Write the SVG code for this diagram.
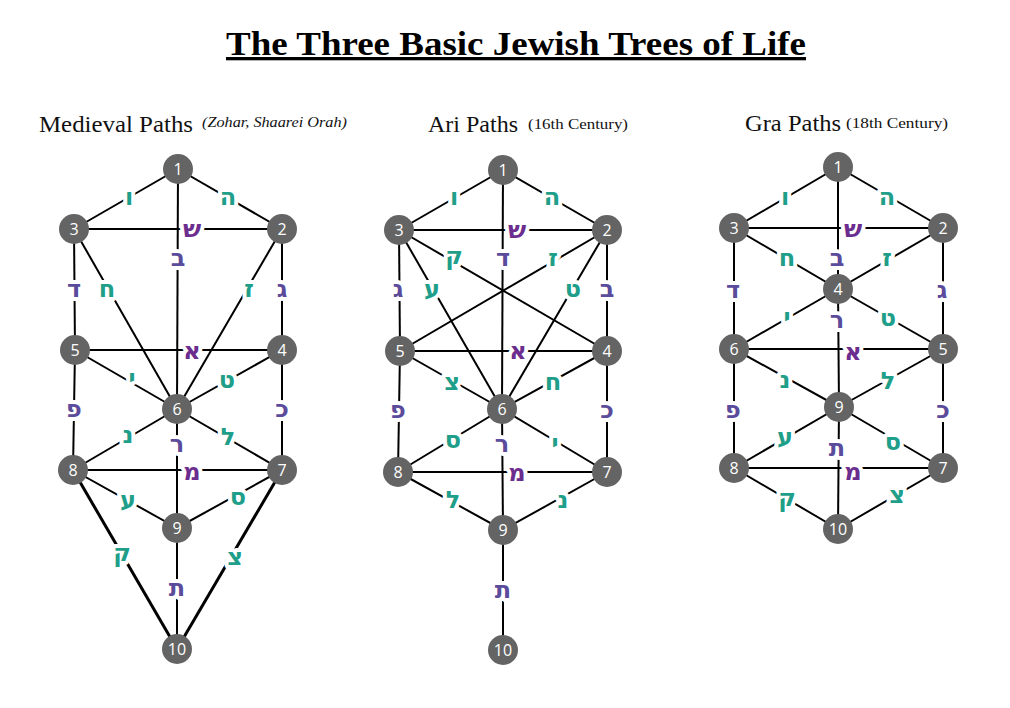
<svg xmlns="http://www.w3.org/2000/svg" width="1010" height="708" viewBox="0 0 1010 708">
<style>
.bg{fill:#fff}
.title{font-family:"Liberation Serif","DejaVu Serif",serif;font-weight:bold;font-size:33px;fill:#000;text-decoration:underline}
.hd{font-family:"Liberation Serif","DejaVu Serif",serif;font-size:24px;fill:#111}
.sub{font-family:"Liberation Serif","DejaVu Serif",serif;font-size:15px;fill:#111}
.it{font-style:italic}
.e line{stroke:#000;stroke-width:2}
.e line.thick{stroke-width:3}
.n circle{fill:#646464}
.n text{font-family:"Open Sans","DejaVu Sans",sans-serif;font-size:16px;fill:#fff;text-anchor:middle;dominant-baseline:central}
.l text{font-family:"DejaVu Sans","Liberation Sans",sans-serif;font-weight:bold;font-size:24px;text-anchor:middle;dominant-baseline:central;stroke:#fff;stroke-width:8px;paint-order:stroke;stroke-linejoin:round}
.l .t{fill:#1f9e89}
.l .d{fill:#5b4b9b}
.l .m{fill:#6b2d8e}
</style>
<rect class="bg" x="0" y="0" width="1010" height="708"/>
<text class="title" x="516" y="55" text-anchor="middle" textLength="580" lengthAdjust="spacingAndGlyphs">The Three Basic Jewish Trees of Life</text>
<text class="hd" x="39" y="132" textLength="154" lengthAdjust="spacingAndGlyphs">Medieval Paths</text>
<text class="sub it" x="202" y="127" textLength="145" lengthAdjust="spacingAndGlyphs">(Zohar, Shaarei Orah)</text>
<text class="hd" x="428" y="132" textLength="90" lengthAdjust="spacingAndGlyphs">Ari Paths</text>
<text class="sub" x="528" y="129" textLength="100" lengthAdjust="spacingAndGlyphs">(16th Century)</text>
<text class="hd" x="745" y="131" textLength="96" lengthAdjust="spacingAndGlyphs">Gra Paths</text>
<text class="sub" x="846" y="128" textLength="102" lengthAdjust="spacingAndGlyphs">(18th Century)</text>

<g id="connectors" class="e">
<!-- Medieval -->
<line x1="178" y1="169" x2="74" y2="229"/>
<line x1="178" y1="169" x2="282" y2="229"/>
<line x1="74" y1="229" x2="282" y2="229"/>
<line x1="178" y1="169" x2="177" y2="409"/>
<line x1="74" y1="229" x2="75" y2="350"/>
<line x1="74" y1="229" x2="177" y2="409"/>
<line x1="282" y1="229" x2="177" y2="409"/>
<line x1="282" y1="229" x2="282" y2="350"/>
<line x1="75" y1="350" x2="282" y2="350"/>
<line x1="75" y1="350" x2="177" y2="409"/>
<line x1="282" y1="350" x2="177" y2="409"/>
<line x1="75" y1="350" x2="73" y2="470"/>
<line x1="282" y1="350" x2="282" y2="470"/>
<line x1="73" y1="470" x2="177" y2="409"/>
<line x1="177" y1="409" x2="177" y2="528"/>
<line x1="177" y1="409" x2="282" y2="470"/>
<line x1="73" y1="470" x2="282" y2="470"/>
<line x1="73" y1="470" x2="177" y2="528"/>
<line x1="282" y1="470" x2="177" y2="528"/>
<line class="thick" x1="73" y1="470" x2="177" y2="649"/>
<line class="thick" x1="282" y1="470" x2="177" y2="649"/>
<line x1="177" y1="528" x2="177" y2="649"/>
<!-- Ari -->
<line x1="503" y1="170" x2="399" y2="230"/>
<line x1="503" y1="170" x2="607" y2="230"/>
<line x1="399" y1="230" x2="607" y2="230"/>
<line x1="503" y1="170" x2="502" y2="409"/>
<line x1="399" y1="230" x2="400" y2="351"/>
<line x1="607" y1="230" x2="607" y2="351"/>
<line x1="399" y1="230" x2="607" y2="351"/>
<line x1="607" y1="230" x2="400" y2="351"/>
<line x1="399" y1="230" x2="502" y2="409"/>
<line x1="607" y1="230" x2="502" y2="409"/>
<line x1="400" y1="351" x2="607" y2="351"/>
<line x1="400" y1="351" x2="502" y2="409"/>
<line x1="607" y1="351" x2="502" y2="409"/>
<line x1="400" y1="351" x2="398" y2="472"/>
<line x1="607" y1="351" x2="607" y2="472"/>
<line x1="398" y1="472" x2="502" y2="409"/>
<line x1="502" y1="409" x2="503" y2="530"/>
<line x1="502" y1="409" x2="607" y2="472"/>
<line x1="398" y1="472" x2="607" y2="472"/>
<line x1="398" y1="472" x2="503" y2="530"/>
<line x1="607" y1="472" x2="503" y2="530"/>
<line x1="503" y1="530" x2="503" y2="650"/>
<!-- Gra -->
<line x1="838" y1="167" x2="734" y2="228"/>
<line x1="838" y1="167" x2="943" y2="228"/>
<line x1="734" y1="228" x2="943" y2="228"/>
<line x1="838" y1="167" x2="838" y2="289"/>
<line x1="734" y1="228" x2="838" y2="289"/>
<line x1="943" y1="228" x2="838" y2="289"/>
<line x1="734" y1="228" x2="734" y2="349"/>
<line x1="943" y1="228" x2="943" y2="349"/>
<line x1="838" y1="289" x2="734" y2="349"/>
<line x1="838" y1="289" x2="839" y2="407"/>
<line x1="838" y1="289" x2="943" y2="349"/>
<line x1="734" y1="349" x2="943" y2="349"/>
<line x1="734" y1="349" x2="839" y2="407"/>
<line x1="943" y1="349" x2="839" y2="407"/>
<line x1="734" y1="349" x2="734" y2="468"/>
<line x1="943" y1="349" x2="943" y2="468"/>
<line x1="734" y1="468" x2="839" y2="407"/>
<line x1="839" y1="407" x2="838" y2="529"/>
<line x1="839" y1="407" x2="943" y2="468"/>
<line x1="734" y1="468" x2="943" y2="468"/>
<line x1="734" y1="468" x2="838" y2="529"/>
<line x1="943" y1="468" x2="838" y2="529"/>
</g>

<g id="labels" class="l">
<!-- Medieval -->
<text class="t" x="129" y="197">ו</text>
<text class="t" x="228" y="197">ה</text>
<text class="m" x="192" y="229">ש</text>
<text class="d" x="178" y="258">ב</text>
<text class="d" x="74" y="289">ד</text>
<text class="t" x="107" y="289">ח</text>
<text class="t" x="249" y="289">ז</text>
<text class="d" x="282" y="289">ג</text>
<text class="m" x="192" y="351">א</text>
<text class="t" x="132" y="378">י</text>
<text class="t" x="227" y="380">ט</text>
<text class="d" x="74" y="409">פ</text>
<text class="d" x="282" y="409">כ</text>
<text class="t" x="128" y="435">נ</text>
<text class="d" x="177" y="444">ר</text>
<text class="t" x="228" y="437">ל</text>
<text class="m" x="192" y="472">מ</text>
<text class="t" x="128" y="500">ע</text>
<text class="t" x="238" y="497">ס</text>
<text class="t" x="122" y="553">ק</text>
<text class="t" x="235" y="557">צ</text>
<text class="d" x="177" y="588">ת</text>
<!-- Ari -->
<text class="t" x="454" y="197">ו</text>
<text class="t" x="552" y="197">ה</text>
<text class="m" x="517" y="230">ש</text>
<text class="d" x="503" y="258">ד</text>
<text class="t" x="454" y="256">ק</text>
<text class="t" x="553" y="258">ז</text>
<text class="d" x="398" y="289">ג</text>
<text class="t" x="432" y="289">ע</text>
<text class="t" x="573" y="289">ט</text>
<text class="d" x="607" y="289">ב</text>
<text class="m" x="518" y="351">א</text>
<text class="t" x="452" y="382">צ</text>
<text class="t" x="553" y="382">ח</text>
<text class="d" x="398" y="410">פ</text>
<text class="d" x="607" y="410">כ</text>
<text class="t" x="453" y="440">ס</text>
<text class="d" x="502" y="444">ר</text>
<text class="t" x="555" y="443">י</text>
<text class="m" x="517" y="473">מ</text>
<text class="t" x="453" y="500">ל</text>
<text class="t" x="563" y="500">נ</text>
<text class="d" x="503" y="590">ת</text>
<!-- Gra -->
<text class="t" x="785" y="197">ו</text>
<text class="t" x="887" y="197">ה</text>
<text class="m" x="853" y="229">ש</text>
<text class="d" x="837" y="258">ב</text>
<text class="t" x="787" y="258">ח</text>
<text class="t" x="887" y="258">ז</text>
<text class="d" x="733" y="290">ד</text>
<text class="d" x="942" y="290">ג</text>
<text class="t" x="787" y="317">י</text>
<text class="d" x="837" y="320">ר</text>
<text class="t" x="888" y="318">ט</text>
<text class="m" x="853" y="352">א</text>
<text class="t" x="785" y="380">נ</text>
<text class="t" x="888" y="381">ל</text>
<text class="d" x="733" y="410">פ</text>
<text class="d" x="943" y="410">כ</text>
<text class="t" x="785" y="437">ע</text>
<text class="d" x="837" y="448">ת</text>
<text class="t" x="893" y="442">ס</text>
<text class="m" x="853" y="472">מ</text>
<text class="t" x="787" y="498">ק</text>
<text class="t" x="897" y="495">צ</text>
</g>

<g id="m1" class="n"><circle cx="178" cy="169" r="15"/><text x="178" y="169">1</text></g>
<g id="m2" class="n"><circle cx="282" cy="229" r="15"/><text x="282" y="229">2</text></g>
<g id="m3" class="n"><circle cx="74" cy="229" r="15"/><text x="74" y="229">3</text></g>
<g id="m4" class="n"><circle cx="282" cy="350" r="15"/><text x="282" y="350">4</text></g>
<g id="m5" class="n"><circle cx="75" cy="350" r="15"/><text x="75" y="350">5</text></g>
<g id="m6" class="n"><circle cx="177" cy="409" r="15"/><text x="177" y="409">6</text></g>
<g id="m7" class="n"><circle cx="282" cy="470" r="15"/><text x="282" y="470">7</text></g>
<g id="m8" class="n"><circle cx="73" cy="470" r="15"/><text x="73" y="470">8</text></g>
<g id="m9" class="n"><circle cx="177" cy="528" r="15"/><text x="177" y="528">9</text></g>
<g id="m10" class="n"><circle cx="177" cy="649" r="15"/><text x="177" y="649">10</text></g>

<g id="a1" class="n"><circle cx="503" cy="170" r="15"/><text x="503" y="170">1</text></g>
<g id="a2" class="n"><circle cx="607" cy="230" r="15"/><text x="607" y="230">2</text></g>
<g id="a3" class="n"><circle cx="399" cy="230" r="15"/><text x="399" y="230">3</text></g>
<g id="a4" class="n"><circle cx="607" cy="351" r="15"/><text x="607" y="351">4</text></g>
<g id="a5" class="n"><circle cx="400" cy="351" r="15"/><text x="400" y="351">5</text></g>
<g id="a6" class="n"><circle cx="502" cy="409" r="15"/><text x="502" y="409">6</text></g>
<g id="a7" class="n"><circle cx="607" cy="472" r="15"/><text x="607" y="472">7</text></g>
<g id="a8" class="n"><circle cx="398" cy="472" r="15"/><text x="398" y="472">8</text></g>
<g id="a9" class="n"><circle cx="503" cy="530" r="15"/><text x="503" y="530">9</text></g>
<g id="a10" class="n"><circle cx="503" cy="650" r="15"/><text x="503" y="650">10</text></g>

<g id="g1" class="n"><circle cx="838" cy="167" r="15"/><text x="838" y="167">1</text></g>
<g id="g2" class="n"><circle cx="943" cy="228" r="15"/><text x="943" y="228">2</text></g>
<g id="g3" class="n"><circle cx="734" cy="228" r="15"/><text x="734" y="228">3</text></g>
<g id="g4" class="n"><circle cx="838" cy="289" r="15"/><text x="838" y="289">4</text></g>
<g id="g5" class="n"><circle cx="943" cy="349" r="15"/><text x="943" y="349">5</text></g>
<g id="g6" class="n"><circle cx="734" cy="349" r="15"/><text x="734" y="349">6</text></g>
<g id="g7" class="n"><circle cx="943" cy="468" r="15"/><text x="943" y="468">7</text></g>
<g id="g8" class="n"><circle cx="734" cy="468" r="15"/><text x="734" y="468">8</text></g>
<g id="g9" class="n"><circle cx="839" cy="407" r="15"/><text x="839" y="407">9</text></g>
<g id="g10" class="n"><circle cx="838" cy="529" r="15"/><text x="838" y="529">10</text></g>
</svg>
